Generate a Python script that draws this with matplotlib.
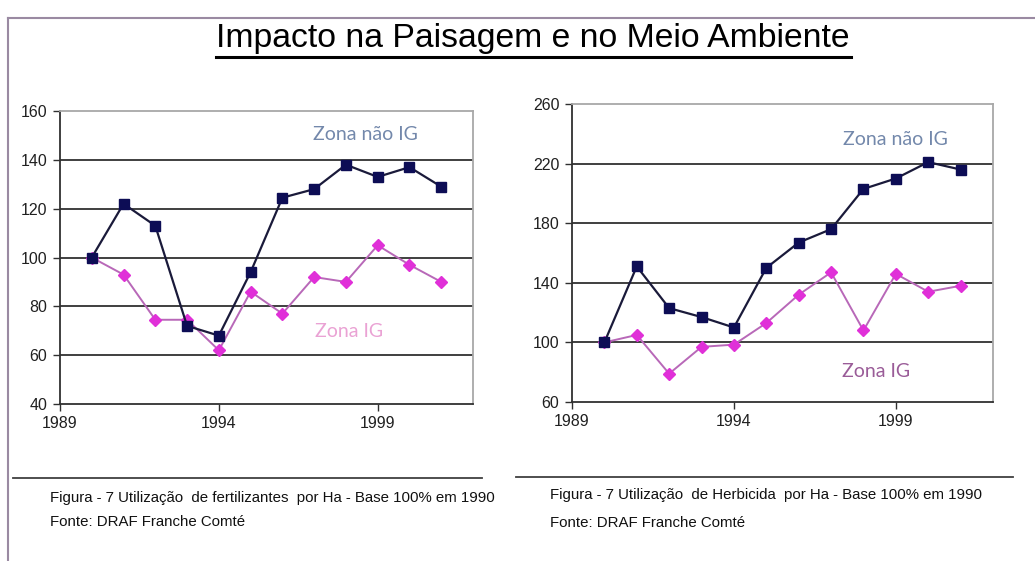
import matplotlib
matplotlib.use("Agg")
import matplotlib.pyplot as plt
from matplotlib.lines import Line2D
from matplotlib import font_manager

years = [1990, 1991, 1992, 1993, 1994, 1995, 1996, 1997, 1998, 1999, 2000, 2001]

# fertilizantes (base 100 em 1990)
fert_nao_ig = [100, 122, 113, 72, 68, 94, 124.5, 128, 138, 133, 137, 129]
fert_ig = [100, 93, 74.5, 74.5, 62, 86, 77, 92, 90, 105, 97, 90]

# herbicida (base 100 em 1990)
herb_nao_ig = [100, 151, 123, 117, 110, 150, 167, 176, 203, 210, 221, 216]
herb_ig = [100, 105, 79, 97, 98.5, 113, 132, 147, 108, 146, 134, 138]

x_ticks = [1989, 1994, 1999]
fert_yticks = [40, 60, 80, 100, 120, 140, 160]
herb_yticks = [60, 100, 140, 180, 220, 260]

title = "Impacto na Paisagem e no Meio Ambiente"
fert_caption = "Figura - 7 Utilização  de fertilizantes  por Ha - Base 100% em 1990"
herb_caption = "Figura - 7 Utilização  de Herbicida  por Ha - Base 100% em 1990"
fonte = "Fonte: DRAF Franche Comté"

# narrow font if present, otherwise plain Liberation Sans a bit smaller
names = {f.name for f in font_manager.fontManager.ttflist}
if "Liberation Sans Narrow" in names:
    NARROW = ["Liberation Sans Narrow", "DejaVu Sans"]
    title_size, tick_size, cap_size = 27, 12, 11.5
else:
    NARROW = ["Liberation Sans", "DejaVu Sans"]
    title_size, tick_size, cap_size = 24.3, 11.5, 10.8
LABEL_FONT = ["Lato", "DejaVu Sans"]

W, H = 1035, 561
fig = plt.figure(figsize=(W / 100, H / 100), dpi=100)
fig.patch.set_facecolor("white")


def px_box(x0, y0, x1, y1):
    return [x0 / W, 1 - y1 / H, (x1 - x0) / W, (y1 - y0) / H]


def draw_panel(ax, nao_ig, ig, yticks, grid_vals):
    ax.set_xlim(1989, 2002)
    ax.set_ylim(yticks[0], yticks[-1])
    for g in grid_vals:
        ax.axhline(g, color="#303030", lw=1.3, zorder=1)
    ax.plot(years, ig, color="#b868b8", lw=1.4, marker="D", markersize=6.5,
            markerfacecolor="#e030d8", markeredgecolor="#e030d8", zorder=3)
    ax.plot(years, nao_ig, color="#1a1a3a", lw=1.6, marker="s", markersize=7.5,
            markerfacecolor="#0d0d55", markeredgecolor="#0d0d55", zorder=4)
    ax.set_xticks(x_ticks)
    ax.set_yticks(yticks)
    ax.tick_params(direction="out", length=5, width=1, colors="#303030",
                   labelsize=tick_size, pad=4)
    for lab in ax.get_xticklabels() + ax.get_yticklabels():
        lab.set_family(NARROW)
        lab.set_color("#202020")
    for s in ["left", "bottom"]:
        ax.spines[s].set_color("#303030")
        ax.spines[s].set_linewidth(1.3)
    for s in ["top", "right"]:
        ax.spines[s].set_color("#a8a8a8")
        ax.spines[s].set_linewidth(1.3)
    ax.set_facecolor("white")


ax1 = fig.add_axes(px_box(60, 111, 473, 404))
draw_panel(ax1, fert_nao_ig, fert_ig, fert_yticks, [60, 80, 100, 120, 140])
ax1.text(1998.6, 150.5, "Zona não IG", color="#7388ab", fontsize=14,
         family=LABEL_FONT, ha="center", va="center")
ax1.text(1998.1, 69.5, "Zona IG", color="#eaa2d4", fontsize=14,
         family=LABEL_FONT, ha="center", va="center")

ax2 = fig.add_axes(px_box(572, 104, 993, 402))
draw_panel(ax2, herb_nao_ig, herb_ig, herb_yticks, [100, 140, 180, 220])
ax2.text(1999.0, 236, "Zona não IG", color="#7388ab", fontsize=14,
         family=LABEL_FONT, ha="center", va="center")
ax2.text(1998.4, 80.5, "Zona IG", color="#9a5c98", fontsize=14,
         family=LABEL_FONT, ha="center", va="center")

# title with underline
fig.text(533 / W, 1 - 47 / H, title, fontsize=title_size, family=NARROW,
         ha="center", va="baseline", color="black")
fig.add_artist(Line2D([216 / W, 851 / W], [1 - 57 / H, 1 - 57 / H],
                      color="black", lw=2.2))

# page frame
fig.add_artist(Line2D([8 / W, 1.0], [1 - 18 / H, 1 - 18 / H], color="#9a8aa2", lw=1.5))
fig.add_artist(Line2D([8 / W, 8 / W], [0, 1 - 18 / H], color="#9a8aa2", lw=1.5))

# caption separators
fig.add_artist(Line2D([13 / W, 482 / W], [1 - 478 / H, 1 - 478 / H], color="#404040", lw=1.3))
fig.add_artist(Line2D([516 / W, 1013 / W], [1 - 477 / H, 1 - 477 / H], color="#404040", lw=1.3))

cap_kw = dict(fontsize=cap_size, family=NARROW, ha="left", va="center", color="#111111")
fig.text(50 / W, 1 - 498 / H, fert_caption, **cap_kw)
fig.text(50 / W, 1 - 522 / H, fonte, **cap_kw)
fig.text(550 / W, 1 - 495 / H, herb_caption, **cap_kw)
fig.text(550 / W, 1 - 523 / H, fonte, **cap_kw)

fig.savefig("out.png", dpi=100)
